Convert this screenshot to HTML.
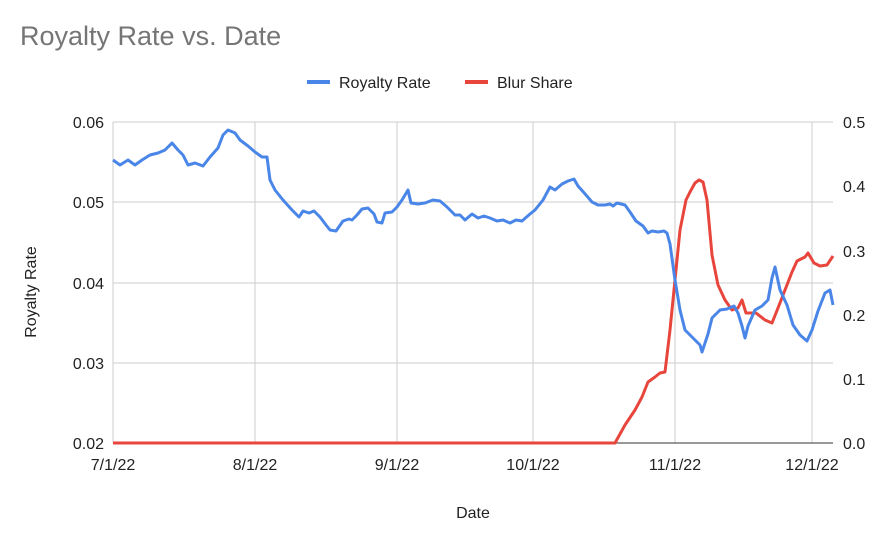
<!DOCTYPE html><html><head><meta charset="utf-8"><style>body{margin:0;background:#fff}svg{display:block;font-family:"Liberation Sans",sans-serif}</style></head><body>
<svg width="880" height="533" viewBox="0 0 880 533">
<text x="20" y="45" font-size="27" fill="#757575">Royalty Rate vs. Date</text>
<line x1="307" y1="82" x2="330" y2="82" stroke="#4a86e8" stroke-width="4"/><text x="339" y="88" font-size="16" fill="#222">Royalty Rate</text>
<line x1="465" y1="82" x2="488" y2="82" stroke="#e8453c" stroke-width="4"/><text x="497" y="88" font-size="16" fill="#222">Blur Share</text>
<g stroke="#ccc" stroke-width="1">
<line x1="113" y1="122" x2="833" y2="122"/><line x1="113" y1="202" x2="833" y2="202"/><line x1="113" y1="283" x2="833" y2="283"/><line x1="113" y1="363" x2="833" y2="363"/>
<line x1="113" y1="122" x2="113" y2="443"/><line x1="255" y1="122" x2="255" y2="443"/><line x1="397" y1="122" x2="397" y2="443"/><line x1="533" y1="122" x2="533" y2="443"/><line x1="675" y1="122" x2="675" y2="443"/><line x1="812" y1="122" x2="812" y2="443"/>
</g>
<line x1="113" y1="443" x2="833" y2="443" stroke="#333" stroke-width="1"/>
<g font-size="16" fill="#222" text-anchor="end">
<text x="104" y="128">0.06</text><text x="104" y="208">0.05</text><text x="104" y="289">0.04</text><text x="104" y="369">0.03</text><text x="104" y="449">0.02</text></g>
<g font-size="16" fill="#222">
<text x="843" y="128">0.5</text><text x="843" y="192">0.4</text><text x="843" y="257">0.3</text><text x="843" y="321">0.2</text><text x="843" y="385">0.1</text><text x="843" y="449">0.0</text></g>
<g font-size="16" fill="#222" text-anchor="middle">
<text x="113" y="470">7/1/22</text><text x="255" y="470">8/1/22</text><text x="397" y="470">9/1/22</text><text x="533" y="470">10/1/22</text><text x="675" y="470">11/1/22</text><text x="812" y="470">12/1/22</text>
<text x="473" y="518">Date</text></g>
<text transform="translate(36,292) rotate(-90)" font-size="16" fill="#222" text-anchor="middle">Royalty Rate</text>
<polyline fill="none" stroke="#e8453c" stroke-width="3" stroke-linejoin="round" points="113,443 615,443 625,425 635,410 642,397 648,382 655,377 660,373 665,372 670,330 675,280 680,230 686,200 690,192 695,183 699,180 703,182 707,200 712,255 718,285 725,300 732,310 738,308 742,300 746,313 750,313 756,313 765,320 772,323 778,308 785,290 792,272 797,261 805,257 808,253 814,263 820,266 827,265 833,256"/>
<polyline fill="none" stroke="#4a86e8" stroke-width="3" stroke-linejoin="round" points="113,160 120,165 128,160 135,165 142,160 150,155 158,153 165,150 172,143 178,150 183,155 188,165 195,163 203,166 210,157 218,148 223,135 228,130 235,133 240,140 248,146 255,152 262,157 267,157 270,180 275,190 283,200 292,210 299,217 303,211 309,213 314,211 320,217 326,225 330,230 336,231 343,221 349,219 352,220 357,215 362,209 368,208 374,214 377,222 382,223 385,213 392,212 397,207 402,200 408,190 411,203 418,204 425,203 433,200 440,201 447,207 455,215 460,215 465,220 472,214 478,218 484,216 490,218 497,221 503,220 510,223 516,220 522,221 530,214 535,210 543,200 550,187 555,190 562,184 568,181 574,179 578,186 586,195 592,202 598,205 605,205 610,204 613,206 617,203 625,205 630,212 636,221 643,226 648,233 652,231 658,232 664,231 667,233 670,244 675,280 680,310 685,330 693,338 700,345 702,352 708,334 712,318 720,310 727,309 734,306 738,313 742,326 745,338 748,326 755,310 762,306 768,300 772,278 775,267 780,290 787,305 793,325 800,335 807,341 812,330 818,311 825,293 830,290 833,305"/>
</svg></body></html>
